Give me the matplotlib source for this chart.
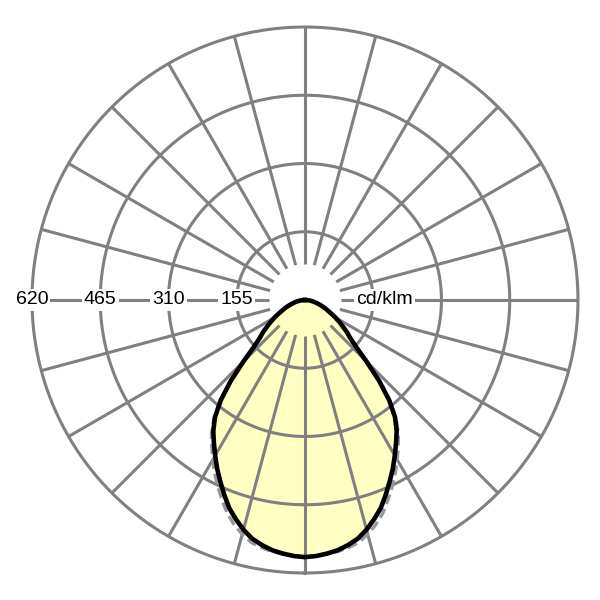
import numpy as np
import matplotlib
matplotlib.use('Agg')
import matplotlib.pyplot as plt

plt.rcParams['font.family'] = ['Liberation Sans', 'DejaVu Sans']

angulos = [0, 2.5, 5, 7.5, 10, 12.5, 15, 17.5, 20, 22.5, 25, 27.5, 30, 32.5,
           35, 37.5, 40, 42.5, 45, 47.5, 50, 52.5, 55, 57.5, 60, 62.5, 65,
           67.5, 70, 72.5, 75, 77.5, 80, 82.5, 85, 87.5, 90]
c0_c180 = [584, 582, 578, 573, 565, 555, 540, 522, 503, 479, 455, 432, 408, 385,
           363, 336, 298, 250, 198, 157, 134, 120, 105, 92, 80, 68, 58,
           50, 42, 35, 28, 23, 18, 13, 8, 4, 0]
c90_c270 = [584, 582, 579, 576, 571, 564, 551, 535, 516, 492, 468, 444, 419, 394,
            370, 340, 300, 251, 198, 157, 134, 120, 105, 92, 80, 68, 58,
            50, 42, 35, 28, 23, 18, 13, 8, 4, 0]

anillos = [155, 310, 465, 620]
etiquetas = ['155', '310', '465', '620']
unidad = 'cd/klm'

gris = '#808080'

def curva_cerrada(ang, val):
    a = np.array(ang, dtype=float)
    v = np.array(val, dtype=float)
    th = np.concatenate([-a[::-1], a[1:]])
    r = np.concatenate([v[::-1], v[1:]])
    return np.radians(th), r

fig = plt.figure(figsize=(6, 6), dpi=100)
ax = fig.add_axes([0.0533, 0.045, 0.91, 0.91], projection='polar')
ax.set_theta_zero_location('S')
ax.set_ylim(0, anillos[-1])
ax.set_axis_off()

# relleno de la curva principal
th, r = curva_cerrada(angulos, c0_c180)
ax.fill(th, r, color='#FFFFC4', zorder=1, lw=0)

# rejilla: anillos y radios cada 15 grados
t = np.linspace(0, 2 * np.pi, 400)
for a in anillos:
    ax.plot(t, np.full_like(t, a), color=gris, lw=2.2, zorder=2, clip_on=False)
r_in = 82
for g in range(0, 360, 15):
    ax.plot([np.radians(g)] * 2, [r_in, anillos[-1]], color=gris, lw=2.2,
            zorder=2, clip_on=False, solid_capstyle='butt')

# curvas
th2, r2 = curva_cerrada(angulos, c90_c270)
ax.plot(th2, r2, color='#999999', lw=2.4, ls=(0, (3, 1.5)), zorder=3)
ax.plot(th, r, color='black', lw=3.3, zorder=4, solid_joinstyle='round')

# etiquetas del eje
for a, txt in zip(anillos, etiquetas):
    ax.text(np.radians(270), a, txt, ha='center', va='center', fontsize=14,
            zorder=5, bbox=dict(facecolor='white', edgecolor='none', pad=1.5))
ax.text(np.radians(90), 116, unidad, ha='left', va='center', fontsize=14,
        zorder=5, bbox=dict(facecolor='white', edgecolor='none', pad=1.5))

fig.savefig('out.png', dpi=100)
